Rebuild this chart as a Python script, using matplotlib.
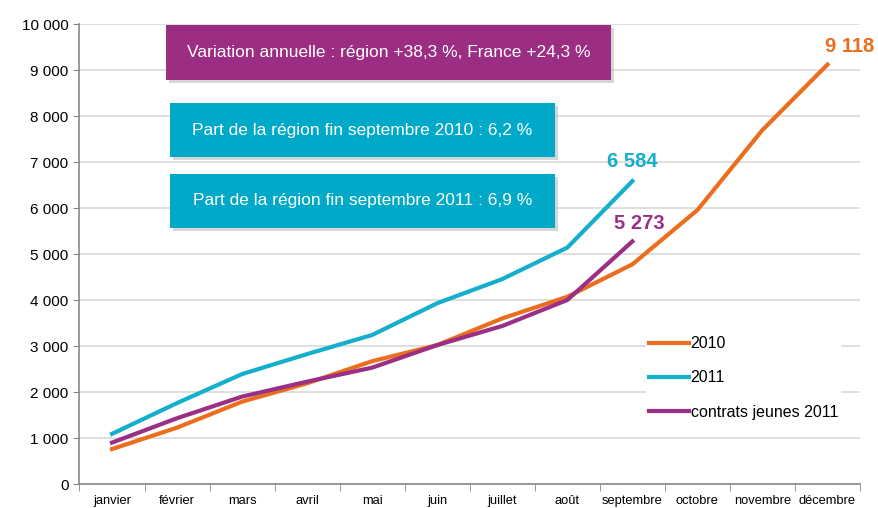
import matplotlib
matplotlib.use("Agg")
import matplotlib.pyplot as plt
import numpy as np

plt.rcParams['font.family'] = ['Liberation Sans Narrow', 'Liberation Sans', 'DejaVu Sans']

months = ["janvier", "février", "mars", "avril", "mai", "juin", "juillet",
          "août", "septembre", "octobre", "novembre", "décembre"]
s2010 = [760, 1225, 1790, 2190, 2670, 3020, 3600, 4070, 4775, 5955, 7695, 9118]
s2011 = [1090, 1760, 2390, 2825, 3240, 3930, 4455, 5140, 6584]
jeunes2011 = [900, 1430, 1900, 2225, 2530, 3020, 3435, 4000, 5273]
yticks = list(range(0, 10001, 1000))
ytick_labels = ["0", "1 000", "2 000", "3 000", "4 000", "5 000", "6 000",
                "7 000", "8 000", "9 000", "10 000"]
box_texts = ["Variation annuelle : région +38,3 %, France +24,3 %",
             "Part de la région fin septembre 2010 : 6,2 %",
             "Part de la région fin septembre 2011 : 6,9 %"]
end_labels = ["9 118", "6 584", "5 273"]

c2010 = "#EB6E1E"
c2011 = "#14AFCC"
cj = "#9B2F86"

fig = plt.figure(figsize=(8.79, 5.08), dpi=100)
W, H = 879, 508
ax = fig.add_axes([79.5 / W, 24 / H, (860 - 79.5) / W, 460 / H])

x = np.arange(len(months))
ax.plot(x[:len(s2010)], s2010, color=c2010, lw=3, label="2010", zorder=3)
ax.plot(x[:len(s2011)], s2011, color=c2011, lw=3, label="2011", zorder=3)
ax.plot(x[:len(jeunes2011)], jeunes2011, color=cj, lw=3, label="contrats jeunes 2011", zorder=3)

ax.set_xlim(-0.5, 11.5)
ax.set_ylim(0, 10000)
ax.set_yticks(yticks)
ax.set_yticklabels(ytick_labels, fontsize=11)
ax.set_xticks(x)
ax.set_xticklabels(months, fontsize=9.3)
ax.tick_params(axis='x', which='major', length=0, pad=8)
ax.set_xticks(np.arange(-0.5, 12, 1), minor=True)
ax.tick_params(axis='x', which='minor', length=5, color="#888888", direction='out')
ax.tick_params(axis='y', length=4, color="#888888", direction='out', pad=4)
ax.yaxis.grid(True, color="#D9D9D9", lw=1.2)
ax.set_axisbelow(True)
for s in ["top", "right"]:
    ax.spines[s].set_visible(False)
for s in ["left", "bottom"]:
    ax.spines[s].set_color("#888888")
    ax.spines[s].set_linewidth(1.2)

# end labels
ax.annotate(end_labels[0], (11, s2010[11]), xytext=(16, 6), textcoords="offset points",
            ha="center", va="bottom", color=c2010, fontsize=14.5, fontweight="bold")
ax.annotate(end_labels[1], (8, s2011[8]), xytext=(0, 7), textcoords="offset points",
            ha="center", va="bottom", color=c2011, fontsize=14.5, fontweight="bold")
ax.annotate(end_labels[2], (8, jeunes2011[8]), xytext=(5, 6), textcoords="offset points",
            ha="center", va="bottom", color=cj, fontsize=14.5, fontweight="bold")

# annotation boxes (figure pixel coordinates)
def box(x0, y0, x1, y1, color, text):
    sh = plt.Rectangle((x0 + 3 / W, y0 - 3 / H), x1 - x0, y1 - y0, transform=fig.transFigure,
                       facecolor="#BBBBBB", edgecolor="none", alpha=0.6, zorder=4)
    fig.add_artist(sh)
    r = plt.Rectangle((x0, y0), x1 - x0, y1 - y0, transform=fig.transFigure,
                      facecolor=color, edgecolor="none", zorder=5)
    fig.add_artist(r)
    fig.text((x0 + x1) / 2, (y0 + y1) / 2, text, color="white", fontsize=12.5,
             ha="center", va="center", zorder=6)

def px(xp, yp):
    return xp / W, 1 - yp / H

x0, y1 = px(166, 25); x1, y0 = px(611, 80)
box(x0, y0, x1, y1, "#9B2D82", box_texts[0])
x0, y1 = px(170, 103); x1, y0 = px(555, 157)
box(x0, y0, x1, y1, "#00A9C8", box_texts[1])
x0, y1 = px(170, 174); x1, y0 = px(555, 228)
box(x0, y0, x1, y1, "#00A9C8", box_texts[2])

leg = ax.legend(loc="upper left", bbox_to_anchor=((638 - 79.5) / (860 - 79.5), (484 - 325) / 460),
                frameon=True, fontsize=11.5, handlelength=2.5, handletextpad=0.1,
                labelspacing=1.2, borderpad=0.2, edgecolor="none", facecolor="white", framealpha=1,
                fancybox=False)

fig.savefig("out.png", dpi=100)
